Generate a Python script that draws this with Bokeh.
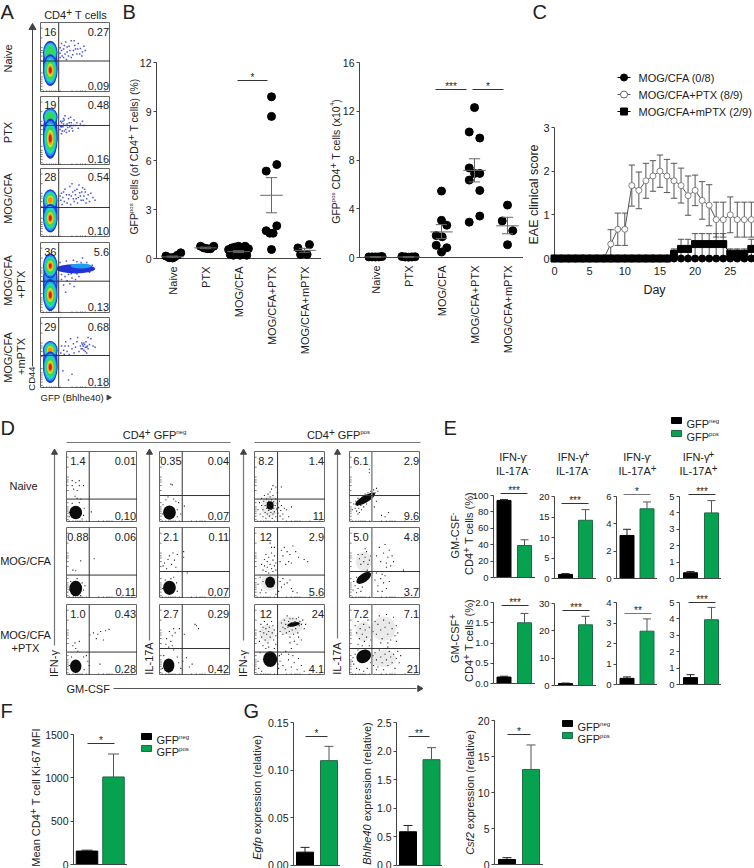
from math import pi
from bokeh.plotting import figure
from bokeh.models import Range1d, LinearAxis, FixedTicker, NumeralTickFormatter, Column
from bokeh.embed import file_html
from bokeh.resources import INLINE
from bokeh.core.properties import value

FONT = "Liberation Sans"
INK = "#222222"
AX = "#444444"
GREEN = "#07A24F"
GREEN_EDGE = "#1F6B48"

# ---------- data ----------
categories = ["Naive", "PTX", "MOG/CFA", "MOG/CFA+PTX", "MOG/CFA+mPTX"]

b1_x = [0.8, 0.9, 1.0, 1.05, 1.15, 1.25,
        1.85, 1.95, 2.05, 2.15, 2.25,
        2.7, 2.75, 2.8, 2.85, 2.9, 2.95, 3.0, 3.05, 3.1, 3.15, 3.2, 3.25, 3.3,
        4.0, 4.0, 4.16, 3.84, 4.16, 3.84, 3.95, 4.05, 4.0,
        4.8, 4.88, 5.08, 5.15]
b1_y = [0.15, 0.05, 0.03, 0.08, 0.2, 0.35,
        0.75, 0.65, 0.6, 0.6, 0.75,
        0.55, 0.25, 0.65, 0.2, 0.7, 0.3, 0.75, 0.2, 0.6, 0.3, 0.75, 0.2, 0.6,
        9.9, 8.7, 5.75, 5.35, 2.0, 1.7, 1.55, 1.55, 0.55,
        0.65, 0.25, 0.25, 0.85]
b1_mean = [0.1, 0.65, 0.42, 3.87, 0.5]
b1_low = [0.08, 0.6, 0.36, 2.8, 0.38]
b1_high = [0.15, 0.7, 0.48, 4.95, 0.62]

b2_x = [0.8, 0.9, 1.0, 1.1, 1.2,
        1.8, 1.9, 2.0, 2.1, 2.2,
        3.0, 3.0, 3.16, 2.84, 3.02, 2.84, 3.16, 3.0,
        4.0, 3.84, 4.16, 3.84, 3.84, 4.0, 4.16, 4.16, 3.84, 4.16,
        5.0, 4.84, 5.16, 5.0]
b2_y = [0.05, 0.05, 0.04, 0.05, 0.08,
        0.08, 0.04, 0.03, 0.04, 0.06,
        5.45, 3.05, 2.65, 1.8, 1.7, 1.0, 0.8, 0.45,
        12.3, 10.3, 9.8, 7.35, 6.35, 6.9, 6.9, 5.5, 2.9, 3.4,
        4.3, 3.0, 2.2, 1.05]
b2_mean = [0.04, 0.04, 2.1, 7.15, 2.6]
b2_low = [0.02, 0.02, 1.55, 6.2, 1.95]
b2_high = [0.06, 0.06, 2.7, 8.1, 3.3]

c_days = list(range(0, 29))
c_cfa = [0] * 29
c_mptx = [0]*17 + [0.11, 0.22, 0.22, 0.33, 0.33, 0.33, 0.33, 0.33, 0.11, 0.11, 0.11, 0.22]
c_mptx_err = [0]*17 + [0.11, 0.22, 0.22, 0.24, 0.24, 0.24, 0.24, 0.24, 0.11, 0.11, 0.11, 0.22]
c_ptx_days = [7, 8, 9, 10, 11, 12, 13, 14, 15, 16, 17, 18, 19, 20, 21, 22, 23, 24, 25, 26, 27, 28]
c_ptx = [0, 0.33, 0.67, 0.67, 1.67, 1.56, 1.78, 1.89, 2.0, 1.89, 1.78, 1.67, 1.44, 1.56, 1.33, 1.22, 0.89, 0.89, 1.0, 0.89, 0.89, 0.89]
c_ptx_err = [0, 0.33, 0.37, 0.37, 0.47, 0.42, 0.4, 0.35, 0.37, 0.38, 0.4, 0.4, 0.45, 0.35, 0.43, 0.47, 0.4, 0.4, 0.41, 0.4, 0.4, 0.4]

a_top_left = ["16", "19", "28", "36", "29"]
a_top_right = ["0.27", "0.48", "0.54", "5.6", "0.68"]
a_bottom_right = ["0.09", "0.16", "0.10", "0.13", "0.18"]
a_gate_y = [45, 58, 43.5, 45.5, 46.5]
# centre y, height and number of colour rings of the two populations in each plot
a_upper = [(57, 33, 4), (70, 26, 4), (54, 31, 6), (67, 35, 7), (54, 26, 6)]
a_lower = [(32, 45, 7), (39, 58, 7), (28, 41, 7), (26, 45, 7), (30, 44, 7)]
a_dots_1 = [(30,70),(33,62),(36,72),(38,58),(41,66),(44,74),(47,60),(49,67),(52,55),(54,70),(57,63),(60,58),(62,66),(64,60),(35,55),(31,52),(40,52),(46,54),(50,62),(56,55),(42,60),(34,67),(48,74),(59,52),(30,60),(33,50),(38,65),(44,50),(53,62),(37,47),(28,64),(28,56),(28,50)]
a_dots_2 = [(30,62),(32,56),(34,66),(36,52),(38,60),(40,68),(42,56),(44,62),(46,50),(48,66),(50,58),(52,62),(54,54),(57,60),(60,64),(62,58),(31,50),(33,60),(35,72),(37,48),(39,55),(41,62),(43,70),(45,54),(47,58),(29,56),(29,64),(30,46),(33,68),(28,52),(36,58),(41,50),(44,58),(30,56),(32,64),(34,50)]
a_dots_3 = [(30,64),(32,58),(35,70),(37,62),(40,56),(42,74),(44,60),(46,66),(48,52),(50,62),(52,70),(54,58),(56,65),(58,54),(60,72),(62,60),(64,66),(66,56),(68,62),(70,52),(72,64),(75,58),(78,54),(29,54),(31,48),(34,52),(38,50),(43,48),(47,56),(49,68),(53,50),(57,60),(61,54),(65,50),(45,78),(55,76),(63,70),(28,60),(33,66),(41,62),(51,56),(59,66)]
a_dots_4 = [(40,55),(45,50),(50,48),(55,52),(35,52),(38,46),(30,48),(60,58),(33,40),(42,42),(47,75),(52,73),(65,60),(69,66),(37,74),(60,78),(70,58),(28,72),(35,66),(30,55),(44,56),(52,56),(58,72),(66,72),(72,62),(74,68),(48,38),(36,30)]
a_dots_5 = [(30,60),(33,54),(36,66),(38,52),(40,60),(43,70),(45,56),(47,63),(50,58),(52,66),(55,52),(57,60),(59,64),(60,56),(61,60),(62,54),(63,62),(64,58),(65,66),(66,50),(67,60),(68,56),(70,62),(72,70),(75,60),(78,58),(58,56),(62,64),(64,52),(60,62),(66,58),(29,50),(34,48),(41,48),(48,50),(35,60),(53,72),(68,72),(45,20),(40,12),(32,25)]
a_dots = [a_dots_1, a_dots_2, a_dots_3, a_dots_4, a_dots_5]

d_labels = [
    [("1.4", "0.01", "0.10"), ("0.35", "0.04", "0.07"), ("8.2", "1.4", "11"), ("6.1", "2.9", "9.6")],
    [("0.88", "0.06", "0.11"), ("2.1", "0.11", "0.07"), ("12", "2.9", "5.6"), ("5.0", "4.8", "3.7")],
    [("1.0", "0.43", "0.28"), ("2.7", "0.29", "0.42"), ("12", "24", "4.1"), ("7.2", "7.1", "21")],
]
d_r1c1 = [(8,59),(13,56),(18,59),(10,47),(15,45),(12,37),(15,34),(20,33),(8,52),(18,52),(35,15),(24,52),(4,14),(24,10),(25,20),(8,27),(18,28),(4,8),(22,5)]
d_r1c2 = [(16,54),(18,53),(20,33),(23,30),(9,32),(12,36),(35,23),(27,28),(5,25),(25,18),(30,12),(4,12),(25,8)]
d_r1c3 = [(5,18),(7,28),(8,12),(10,24),(10,34),(12,18),(12,8),(13,30),(14,38),(15,14),(15,24),(16,6),(17,20),(17,33),(18,28),(18,12),(19,24),(19,40),(20,17),(20,30),(21,9),(21,26),(22,22),(22,36),(23,14),(23,28),(24,19),(24,32),(25,6),(25,24),(26,12),(26,38),(27,20),(27,29),(28,15),(29,24),(30,8),(30,33),(31,19),(32,27),(33,13),(34,21),(35,30),(36,9),(37,17),(38,24),(40,12),(42,20),(45,18),(48,8),(26,52),(24,47),(30,50),(38,50),(22,43),(32,42),(40,5),(52,22)]
d_r1c4 = [(6,26),(8,20),(9,30),(10,16),(11,24),(12,34),(13,20),(14,14),(15,30),(16,24),(17,18),(18,36),(20,22),(21,30),(22,40),(24,26),(26,42),(28,34),(30,44),(32,38),(34,46),(36,42),(38,48),(40,44),(28,70),(28,75),(35,22),(45,10),(50,8),(55,14),(38,30),(4,18),(12,12)]
d_r2c1 = [(13,39),(9,40),(39,56),(20,53),(4,12),(24,12),(22,22),(6,24),(15,28),(26,18),(10,4),(20,4)]
d_r2c2 = [(7,50),(10,42),(12,55),(14,60),(17,48),(19,64),(21,54),(23,44),(25,62),(34,66),(34,58),(39,36),(5,46),(20,30),(4,14),(25,10),(24,22),(8,26),(16,28)]
d_r2c3 = [(12,40),(14,46),(16,38),(18,52),(18,44),(20,58),(20,36),(22,48),(24,64),(24,42),(26,54),(26,38),(28,46),(28,60),(30,50),(30,40),(14,55),(10,48),(24,72),(16,62),(22,78),(28,72),(38,68),(40,60),(42,72),(46,66),(50,62),(54,74),(58,66),(62,58),(70,55),(75,52),(48,52),(52,50),(36,52),(44,48),(5,20),(8,30),(10,12),(12,24),(36,24),(38,16),(40,28),(42,20),(46,22),(50,26),(52,14),(54,10),(60,8),(34,10),(30,6),(8,8),(33,30),(16,8)]
d_r2c4 = [(5,12),(6,24),(8,18),(10,8),(10,30),(12,14),(14,22),(16,10),(18,16),(30,38),(32,36),(35,38),(38,36),(42,38),(46,34),(28,32),(25,40),(14,56),(16,48),(18,62),(20,52),(22,58),(24,66),(26,48),(12,62),(28,54),(30,60),(22,70),(38,60),(42,72),(44,52),(48,64),(50,76),(52,50),(54,58),(56,68),(58,46),(60,60),(62,52),(52,44),(36,26),(40,18),(44,28),(48,22),(52,14),(50,32),(56,24),(76,40),(46,10),(40,10)]
d_r3c1 = [(12,46),(13,38),(18,48),(9,42),(16,34),(38,60),(44,58),(48,62),(55,63),(60,65),(42,52),(33,57),(52,50),(30,20),(28,28),(32,14),(47,16),(24,26),(25,8),(4,14),(7,26)]
d_r3c2 = [(14,62),(18,56),(20,66),(10,52),(16,48),(13,40),(18,42),(20,36),(22,60),(9,44),(28,66),(35,58),(50,72),(52,70),(55,66),(27,18),(33,20),(30,10),(42,12),(46,16),(25,26),(6,28),(4,10),(38,25)]
d_r3c3 = [(36,62),(38,74),(40,68),(40,58),(42,78),(43,66),(44,72),(45,60),(46,84),(47,68),(48,76),(49,62),(50,54),(50,80),(51,70),(52,74),(53,64),(54,80),(55,58),(56,72),(57,76),(58,66),(59,80),(60,74),(61,60),(62,82),(63,70),(64,76),(66,72),(68,78),(70,66),(72,72),(50,46),(52,38),(56,48),(60,44),(62,54),(66,50),(48,30),(44,34),(8,62),(9,72),(10,54),(12,68),(13,60),(14,76),(15,50),(16,66),(17,58),(18,72),(19,46),(20,62),(21,68),(22,54),(24,76),(25,60),(26,70),(27,50),(28,64),(30,56),(7,48),(12,42),(20,40),(30,44),(38,30),(40,14),(44,8),(48,22),(52,12),(56,18),(60,8),(62,24),(66,14),(54,28),(34,10),(36,20),(70,6),(5,20),(8,32),(6,10),(10,6),(35,28),(33,16),(16,38),(28,38)]
d_r3c4 = [(8,70),(10,60),(12,76),(14,52),(15,66),(16,82),(18,58),(20,72),(21,48),(22,64),(24,54),(26,78),(28,68),(30,50),(33,62),(12,44),(18,42),(28,42),(38,58),(40,72),(42,84),(44,64),(46,52),(48,78),(50,68),(52,86),(54,58),(56,74),(58,50),(60,66),(62,82),(64,56),(66,70),(68,60),(44,46),(36,76),(54,46),(66,48),(36,32),(38,22),(40,12),(42,36),(44,26),(46,18),(48,8),(50,30),(52,22),(54,14),(56,34),(58,26),(60,18),(62,30),(64,10),(66,24),(68,34),(70,18),(46,38),(54,40),(38,8),(34,14),(72,28),(5,25),(6,16),(8,30),(10,10),(12,36),(14,8),(25,10),(30,18),(33,28),(20,6),(4,20)]
d_dots = [[d_r1c1, d_r1c2, d_r1c3, d_r1c4], [d_r2c1, d_r2c2, d_r2c3, d_r2c4], [d_r3c1, d_r3c2, d_r3c3, d_r3c4]]
# solid population in each plot: x, y, width, height, angle in degrees
d_blobs = [
    [[(13,14,18,19,0)], [(14,14,18,20,0)], [(22,24,10,12,0)], [(22,33,32,10,30)]],
    [[(13,14,18,22,0)], [(14,15,18,20,0)], [(22,23,14,16,0)], [(20,29,24,12,35)]],
    [[(13,13,16,19,0)], [(13,14,16,20,0)], [(22,23,20,22,0), (55,72,18,6,10)], [(20,27,22,18,35)]],
]
# looser clouds, drawn pale behind the dots
d_clouds = [
    [[], [], [(22,23,26,30,0)], []],
    [[], [], [(22,23,26,24,0)], [(20,52,22,28,0)]],
    [[], [], [(50,70,36,26,0), (18,60,22,24,0)], [(48,24,36,24,0), (48,66,34,34,0), (20,62,22,28,0)]],
]

e_top_neg = [94, 1.0, 3.15, 0.35]
e_top_neg_err = [95, 1.2, 3.6, 0.43]
e_top_pos = [39, 14.2, 5.1, 4.0]
e_top_pos_err = [46, 16.8, 5.6, 4.75]
e_bot_neg = [0.16, 0.7, 0.3, 0.42]
e_bot_neg_err = [0.18, 0.9, 0.37, 0.6]
e_bot_pos = [1.5, 22.2, 2.6, 3.95]
e_bot_pos_err = [1.73, 25.3, 3.2, 4.7]
e_top_ticks = [[0, 20, 40, 60, 80, 100], [0, 5, 10, 15, 20], [0, 2, 4, 6], [0, 1, 2, 3, 4, 5]]
e_bot_ticks = [[0, 0.5, 1.0, 1.5, 2.0], [0, 10, 20, 30], [0, 1, 2, 3, 4], [0, 1, 2, 3, 4, 5]]
e_bot_formats = ["0.0", "0", "0", "0"]
f_vals = [155, 1010]
f_errs = [165, 1275]
f_ticks = [0, 500, 1000, 1500]
g_vals = [[0.014, 0.11], [0.59, 1.85], [0.7, 13.2]]
g_errs = [[0.019, 0.125], [0.7, 2.06], [0.95, 16.6]]
g_ticks = [[0, 0.05, 0.10, 0.15], [0, 0.5, 1.0, 1.5, 2.0, 2.5], [0, 5, 10, 15, 20]]

# ---------- helpers ----------
figs = []
WIDTHS = {' ':.278,'(':.333,')':.333,'+':.584,'-':.333,'/':.278,'%':.889,'.':.278,'A':.667,'B':.667,'C':.722,'D':.722,'E':.667,'F':.611,'G':.778,'H':.722,'I':.278,'K':.667,'L':.556,'M':.833,'N':.722,'O':.778,'P':.667,'S':.667,'T':.611,'X':.667,'a':.556,'b':.556,'c':.5,'d':.556,'e':.556,'f':.278,'g':.556,'h':.556,'i':.222,'j':.222,'k':.5,'l':.222,'m':.833,'n':.556,'o':.556,'p':.556,'q':.556,'r':.333,'s':.5,'t':.278,'u':.556,'v':.5,'w':.722,'x':.5,'y':.5,'z':.5,'γ':.41}

def text_width(s, size):
    return sum(WIDTHS.get(c, .556) for c in s) * size

def panel(L, T, W, H, xr, yr, ml=0, mb=0, mr=0, mt=0):
    p = figure(width=W + ml + mr, height=H + mt + mb, x_range=Range1d(*xr), y_range=Range1d(*yr),
               x_axis_type=None, y_axis_type=None, toolbar_location=None, output_backend="svg", tools="",
               min_border_left=ml, min_border_right=mr, min_border_top=mt, min_border_bottom=mb,
               background_fill_color=None, border_fill_color=None, outline_line_color=None, frame_align=False)
    p.styles = {"position": "absolute", "left": f"{L - ml}px", "top": f"{T - mt}px"}
    figs.append(p)
    return p

bg = panel(0, 0, 754, 868, (0, 754), (868, 0))
fg = panel(0, 0, 754, 868, (0, 754), (868, 0))
figs.remove(fg)

def T(x, y, s, size=11, align="center", angle=0, style="normal", color=INK, baseline="middle", fig=None):
    (fig or bg).text(x=[x], y=[y], text=[s], text_font=value(FONT), text_font_size=f"{size}px", text_align=align,
                     text_baseline=baseline, angle=angle, text_color=color, text_font_style=value(style))

def rich(x, y, pieces, vertical=False, align="center"):
    full = []
    for q in pieces:
        full.append((q[0], q[1], q[2] if len(q) > 2 else 0, q[3] if len(q) > 3 else "normal"))
    total = sum(text_width(q[0], q[1]) for q in full)
    pos = {"center": -total / 2, "left": 0, "right": -total}[align]
    big = max(q[1] for q in full)
    for s, size, up, style in full:
        bare = s.lstrip(" ")
        pos += text_width(s[:len(s) - len(bare)], size)
        if vertical:
            T(x + .36 * big - up, y - pos, bare, size, "left", pi / 2, style, baseline="alphabetic")
        else:
            T(x + pos, y + .36 * big - up, bare, size, "left", 0, style, baseline="alphabetic")
        pos += text_width(bare, size)

def seg(x0, y0, x1, y1, color=AX, width=1):
    bg.segment(x0=[x0], y0=[y0], x1=[x1], y1=[y1], line_color=color, line_width=width)

def sig(x0, x1, y, stars, color="#333333"):
    seg(x0, y, x1, y, color)
    T((x0 + x1) / 2, y - 3.5, stars, 10)

def style_axis(a, size=10.5, out=3, standoff=2):
    a.axis_line_color = AX
    a.major_tick_line_color = AX
    a.major_tick_out = out
    a.major_tick_in = 0
    a.minor_tick_out = 0
    a.minor_tick_in = 0
    a.major_label_standoff = standoff
    a.major_label_text_font = FONT
    a.major_label_text_font_size = f"{size}px"
    a.major_label_text_color = INK

def swatch(x, y, color, edge):
    bg.rect(x=[x], y=[y], width=[10], height=[6], fill_color=color, line_color=edge)

def gfp_legend(xs, ytop, ybot, size=11):
    swatch(xs, ytop, "#000000", "#000000")
    swatch(xs, ybot, GREEN, GREEN_EDGE)
    rich(xs + 10, ytop, [("GFP", size), ("neg", 6, 3)], align="left")
    rich(xs + 10, ybot, [("GFP", size), ("pos", 6, 3)], align="left")

FLOW_TICKS = [4, 9, 13, 16, 19, 22, 28, 45, 52, 57, 60, 64, 78, 92]

def flow(L, Top, W, H):
    p = panel(L, Top, W, H, (0, 100), (0, 100))
    p.outline_line_color = "#666666"
    p.outline_line_width = 1
    p.segment(x0=FLOW_TICKS, y0=[0]*len(FLOW_TICKS), x1=FLOW_TICKS, y1=[3]*len(FLOW_TICKS), line_color="#444444", line_width=0.7)
    p.segment(x0=[0]*len(FLOW_TICKS), y0=FLOW_TICKS, x1=[3]*len(FLOW_TICKS), y1=FLOW_TICKS, line_color="#444444", line_width=0.7)
    return p

def flow_finish(p, box, vx, hy, labels, tlx=17, vcolor="#333333", vwidth=1):
    L, Top, W, H = box
    p.segment(x0=[vx], y0=[0], x1=[vx], y1=[100], line_color=vcolor, line_width=vwidth)
    p.segment(x0=[0], y0=[hy], x1=[100], y1=[hy], line_color="#333333", line_width=1)
    tl, tr, br = labels
    T(L + W * tlx / 100, Top + H * .13, tl, 11, "center", fig=fg)
    T(L + W * .98, Top + H * .13, tr, 11, "right", fig=fg)
    T(L + W * .98, Top + H * .91, br, 11, "right", fig=fg)

def bar_panel(L, R, top, base, ymax, ticks, c1, c2, bw, vals, errs, fmt="0", size=9.5, capw=8):
    sp = c2 - c1
    xr = (1 + (L - c1) / sp, 1 + (R - c1) / sp)
    p = panel(L, top, R - L, base - top, xr, (0, ymax), ml=36, mb=min(8, 868 - base), mt=8)
    ya = LinearAxis(ticker=FixedTicker(ticks=ticks), formatter=NumeralTickFormatter(format=fmt))
    style_axis(ya, size)
    p.add_layout(ya, "left")
    xa = LinearAxis(ticker=FixedTicker(ticks=[]))
    style_axis(xa, size, 0)
    p.add_layout(xa, "below")
    colors = ["#000000", GREEN]
    edges = ["#000000", GREEN_EDGE]
    cap = capw / sp / 2
    whisk = ["#222222", "#555555"]
    for i in range(2):
        x = i + 1
        p.segment(x0=[x], y0=[vals[i]], x1=[x], y1=[errs[i]], line_color=whisk[i], line_width=1, level="overlay")
        p.segment(x0=[x - cap], y0=[errs[i]], x1=[x + cap], y1=[errs[i]], line_color=whisk[i], line_width=1, level="overlay")
        p.vbar(x=[x], top=[vals[i]], width=bw / sp, bottom=0, fill_color=colors[i], line_color=edges[i], line_width=1)
    return p

def dot_plot(L, R, top, base, ymax, ticks, xs, ys, means, lows, highs, c1=1):
    sp = 33.0
    xr = (1 + (L - c1) / sp, 1 + (R - c1) / sp)
    p = panel(L, top, R - L, base - top, xr, (0, ymax), ml=32, mb=100, mt=8)
    ya = LinearAxis(ticker=FixedTicker(ticks=ticks))
    style_axis(ya, 10.5)
    p.add_layout(ya, "left")
    xa = LinearAxis(ticker=FixedTicker(ticks=[1, 2, 3, 4, 5]),
                    major_label_overrides={i + 1: c for i, c in enumerate(categories)},
                    major_label_orientation=pi / 2)
    style_axis(xa, 11, 0, 8)
    p.add_layout(xa, "below")
    p.scatter(x=xs, y=ys, size=8, marker="circle", fill_color="#000000", line_color="#000000", level="overlay")
    cats = [1, 2, 3, 4, 5]
    p.segment(x0=[c - .34 for c in cats], y0=means, x1=[c + .34 for c in cats], y1=means, line_color="#666666", level="overlay")
    p.segment(x0=cats, y0=lows, x1=cats, y1=highs, line_color="#666666", level="overlay")
    p.segment(x0=[c - .17 for c in cats], y0=lows, x1=[c + .17 for c in cats], y1=lows, line_color="#666666", level="overlay")
    p.segment(x0=[c - .17 for c in cats], y0=highs, x1=[c + .17 for c in cats], y1=highs, line_color="#666666", level="overlay")
    return p

# ---------- panel letters ----------
for x, y, s in [(0, 11, "A"), (122, 11, "B"), (532, 11, "C"), (0, 427, "D"), (443, 427, "E"), (0, 710, "F"), (243, 710, "G")]:
    T(x, y, s, 20, "left")

# ---------- A ----------
rich(75, 11, [("CD4", 11), ("+", 10, 3), (" T cells", 11)])
seg(32, 28, 32, 366)
bg.scatter(x=[32], y=[27], marker="triangle", size=7, fill_color=AX, line_color=AX)
T(31, 378, "CD44", 9.5, "center", pi / 2)
T(40, 397, "GFP (Bhlhe40)", 9.5, "left")
bg.scatter(x=[108], y=[397], marker="triangle", size=5, angle=-pi / 2, fill_color=AX, line_color=AX)
T(7, 58, "Naive", 11, "center", pi / 2)
T(7, 132, "PTX", 11, "center", pi / 2)
T(7, 198, "MOG/CFA", 11, "center", pi / 2)
T(7, 280, "MOG/CFA", 11, "center", pi / 2)
T(20, 284, "+PTX", 11, "center", pi / 2)
T(7, 357, "MOG/CFA", 11, "center", pi / 2)
T(20, 356, "+mPTX", 11, "center", pi / 2)

A_TOPS = [(22, 70), (96, 69), (168, 69), (242, 71), (317, 71)]
RINGS = [("#2233D8", 1.0), ("#1E9CF0", .88), ("#20D8C0", .76), ("#30D860", .62), ("#C8E428", .44), ("#FF9010", .31), ("#E61010", .2)]
for i, (top, h) in enumerate(A_TOPS):
    p = flow(40, top, 70, h)
    dx, dy = zip(*a_dots[i])
    p.scatter(x=list(dx), y=list(dy), size=1.5, marker="square", fill_color="#2A36D0", fill_alpha=.85, line_color=None)
    if i == 3:
        p.ellipse(x=[50], y=[63], width=[56], height=[13], fill_color="#2233D8", line_color=None)
        p.ellipse(x=[58], y=[67], width=[30], height=[7], fill_color="#1E9CF0", line_color=None)
    u, l = a_upper[i], a_lower[i]
    hi = u[0] + u[1] / 2
    low = l[0] - l[1] / 2
    p.ellipse(x=[14], y=[(hi + low) / 2], width=[21], height=[hi - low], fill_color="#2233D8", line_color=None)
    p.ellipse(x=[14], y=[(hi + low) / 2], width=[17], height=[hi - low - 8], fill_color="#1E9CF0", line_color=None)
    for cy, ch, n in (u, l):
        for col, f in RINGS[:n]:
            p.ellipse(x=[14], y=[cy], width=[21 * f], height=[ch * f], fill_color=col, line_color=None)
    flow_finish(p, (40, top, 70, h), 26, a_gate_y[i], (a_top_left[i], a_top_right[i], a_bottom_right[i]), 14)

# ---------- B ----------
rich(130, 156, [("GFP", 10.5), ("pos", 6, 3), (" cells (of CD4", 10.5), ("+", 10, 3), (" T cells) (%)", 10.5)], vertical=True)
dot_plot(156, 321, 62, 258, 12, [0, 3, 6, 9, 12], b1_x, b1_y, b1_mean, b1_low, b1_high, c1=172)
sig(237, 267, 80, "*")
rich(332, 161, [("GFP", 10.5), ("pos", 6, 3), (" CD4", 10.5), ("+", 10, 3), (" T cells (x10", 10.5), ("4", 6, 4), (")", 10.5)], vertical=True)
dot_plot(359, 523, 62, 257, 16, [0, 4, 8, 12, 16], b2_x, b2_y, b2_mean, b2_low, b2_high, c1=375)
sig(435, 466, 89, "***")
sig(472, 503, 89, "*")

# ---------- C ----------
pc = panel(554, 127, 200, 131, (0, 200 / 7.03), (0, 3), ml=30, mb=40, mt=8)
ya = LinearAxis(ticker=FixedTicker(ticks=[0, 1, 2, 3]))
style_axis(ya, 11)
pc.add_layout(ya, "left")
xa = LinearAxis(ticker=FixedTicker(ticks=[0, 5, 10, 15, 20, 25]))
style_axis(xa, 11, 3, 5)
pc.add_layout(xa, "below")
GR = "#555555"
up = [v + e for v, e in zip(c_ptx, c_ptx_err)]
lo = [v - e for v, e in zip(c_ptx, c_ptx_err)]
pc.segment(x0=c_ptx_days, y0=lo, x1=c_ptx_days, y1=up, line_color=GR, level="overlay")
pc.segment(x0=[d - .45 for d in c_ptx_days], y0=up, x1=[d + .45 for d in c_ptx_days], y1=up, line_color=GR, level="overlay")
pc.segment(x0=[d - .45 for d in c_ptx_days], y0=lo, x1=[d + .45 for d in c_ptx_days], y1=lo, line_color=GR, level="overlay")
mup = [v + e for v, e in zip(c_mptx, c_mptx_err)]
mlo = [v - e for v, e in zip(c_mptx, c_mptx_err)]
pc.segment(x0=c_days, y0=mlo, x1=c_days, y1=mup, line_color=GR, level="overlay")
pc.segment(x0=[d - .45 for d in c_days], y0=mup, x1=[d + .45 for d in c_days], y1=mup, line_color=GR, level="overlay")
pc.line(x=c_ptx_days, y=c_ptx, line_color=GR, line_width=1, level="overlay")
pc.scatter(x=c_days, y=c_cfa, marker="circle", size=7, fill_color="#000000", line_color="#000000", level="overlay")
pc.scatter(x=c_ptx_days[1:], y=c_ptx[1:], marker="circle", size=6, fill_color="#FFFFFF", line_color="#666666", line_width=0.8, level="overlay")
pc.line(x=c_days, y=c_mptx, line_color="#000000", line_width=1, level="overlay")
pc.scatter(x=c_days, y=c_mptx, marker="square", size=7, fill_color="#000000", line_color="#000000", level="overlay")
T(533, 194, "EAE clinical score", 12.5, "center", pi / 2)
T(654, 289, "Day", 12.5)
for y, s, m, fc in [(77, "MOG/CFA (0/8)", "circle", "#000000"), (94, "MOG/CFA+PTX (8/9)", "circle", "#FFFFFF"), (111, "MOG/CFA+mPTX (2/9)", "square", "#000000")]:
    seg(617, y, 630, y, GR if fc == "#FFFFFF" else "#000000")
    bg.scatter(x=[623.5], y=[y], marker=m, size=7, fill_color=fc, line_color="#666666" if fc == "#FFFFFF" else "#000000")
    T(638, y, s, 11, "left")

# ---------- D ----------
COLS = [66, 159, 254, 349]
ROWS = [451, 527, 604]
GATES_X = [32, 32, 32.5, 31.5]
GATES_Y = [33, 38, 33, 38]
for r, top in enumerate(ROWS):
    for c, left in enumerate(COLS):
        p = flow(left, top, 71, 71)
        for (x, y, w, h, a) in d_clouds[r][c]:
            p.ellipse(x=[x], y=[y], width=[w], height=[h], angle=[a], angle_units="deg", fill_color="#BBBBBB", fill_alpha=.3, line_color=None)
        dx, dy = zip(*d_dots[r][c])
        p.scatter(x=list(dx), y=list(dy), size=1.1, marker="square", fill_color="#222222", line_color=None)
        for (x, y, w, h, a) in d_blobs[r][c]:
            p.ellipse(x=[x], y=[y], width=[w], height=[h], angle=[a], angle_units="deg", fill_color="#0C0C0C", line_color=None)
        flow_finish(p, (left, top, 71, 71), GATES_X[c], GATES_Y[c], d_labels[r][c], 16,
                    "#888888" if c == 3 else "#333333", 1.5 if c == 3 else 1)
rich(154, 431, [("CD4", 11), ("+", 10, 3), (" GFP", 11), ("neg", 6, 3)])
rich(338, 431, [("CD4", 11), ("+", 10, 3), (" GFP", 11), ("pos", 6, 3)])
seg(66, 442, 230, 442, "#777777", 1.2)
seg(254, 442, 420, 442, "#777777", 1.2)
T(23, 485, "Naive", 11)
T(25, 560, "MOG/CFA", 11)
T(25, 634, "MOG/CFA", 11)
T(25, 647, "+PTX", 11)
for x, end, lab, cy in [(54, 645, "IFN-γ", 663), (149, 640, "IL-17A", 658), (243, 640, "IFN-γ", 663), (337, 638, "IL-17A", 658)]:
    seg(x, 453, x, end, "#777777", 1.2)
    bg.scatter(x=[x], y=[452], marker="triangle", size=6, fill_color=AX, line_color=AX)
    T(x - 1, cy, lab, 11, "center", pi / 2)
T(66, 688, "GM-CSF", 11, "left")
seg(113, 688, 416, 688, "#555555")
bg.scatter(x=[419], y=[688], marker="triangle", size=6, angle=-pi / 2, fill_color=AX, line_color=AX)

# ---------- E ----------
gfp_legend(676, 420, 433)
for x, l1, l2 in [(513, "-", "-"), (573, "+", "-"), (637, "-", "+"), (698, "+", "+")]:
    rich(x, 453, [("IFN-γ", 11), (l1, 8 if l1 == "-" else 10, 3)])
    rich(x, 467, [("IL-17A", 11), (l2, 8 if l2 == "-" else 10, 3)])
rich(451, 535, [("GM-CSF", 11), ("-", 8, 3)], vertical=True)
rich(465, 533, [("CD4", 11), ("+", 10, 3), (" T cells (%)", 11)], vertical=True)
rich(451, 638, [("GM-CSF", 11), ("+", 10, 3)], vertical=True)
rich(465, 640, [("CD4", 11), ("+", 10, 3), (" T cells (%)", 11)], vertical=True)
E_X = [(493, 535, 503.5, 524), (554, 596, 565, 585), (616, 657, 626.5, 646.5), (679, 721, 690, 711)]
E_TOP = [(495, 577), (496, 578), (496, 578), (496, 578)]
E_BOT = [(602, 683), (603, 685), (602, 684), (602, 684)]
for i in range(4):
    L, R, c1, c2 = E_X[i]
    bar_panel(L, R, E_TOP[i][0], E_TOP[i][1], e_top_ticks[i][-1], e_top_ticks[i], c1, c2, 14,
              [e_top_neg[i], e_top_pos[i]], [e_top_neg_err[i], e_top_pos_err[i]])
    bar_panel(L, R, E_BOT[i][0], E_BOT[i][1], e_bot_ticks[i][-1], e_bot_ticks[i], c1, c2, 14,
              [e_bot_neg[i], e_bot_pos[i]], [e_bot_neg_err[i], e_bot_pos_err[i]], fmt=e_bot_formats[i])
sig(500, 527, 493, "***")
sig(561, 588, 503, "***")
sig(623, 650, 494, "*", "#777777")
sig(688, 715, 494, "***")
sig(501, 528, 605, "***")
sig(562, 589, 610, "***")
sig(624, 651, 613, "**", "#777777")
sig(688, 715, 602, "***")

# ---------- F ----------
bar_panel(73, 127, 734, 864, 1500, f_ticks, 86.5, 113, 21.5, f_vals, f_errs, size=10.5, capw=11)
sig(87, 114, 743, "*")
gfp_legend(146, 736, 748)
rich(32, 797, [("Mean CD4", 11), ("+", 10, 3), (" T cell Ki-67 MFI", 11)], vertical=True)

# ---------- G ----------
G_X = [(293, 340, 304.5, 328.5, "0.00", 722, 865), (396, 442, 407.5, 431, "0.0", 722, 865), (494, 543, 506.5, 530.5, "0", 720, 864)]
for i, (L, R, c1, c2, fmt, top, base) in enumerate(G_X):
    bar_panel(L, R, top, base, g_ticks[i][-1], g_ticks[i], c1, c2, 17, g_vals[i], g_errs[i], fmt=fmt, size=10.5, capw=9)
sig(305, 327, 736, "*")
sig(408, 429, 736, "**")
sig(507, 530, 734, "*")
rich(253, 797, [("Egfp", 11, 0, "italic"), (" expression (relative)", 11)], vertical=True)
rich(363, 793, [("Bhlhe40", 11, 0, "italic"), (" expression (relative)", 11)], vertical=True)
rich(466, 792, [("Csf2", 11, 0, "italic"), (" expression (relative)", 11)], vertical=True)
gfp_legend(567, 723, 735)

figs.append(fg)
root = Column(children=figs, width=754, height=868)
root.styles = {"position": "absolute", "left": "0px", "top": "0px"}
open("out.html", "w").write(file_html(root, INLINE))
